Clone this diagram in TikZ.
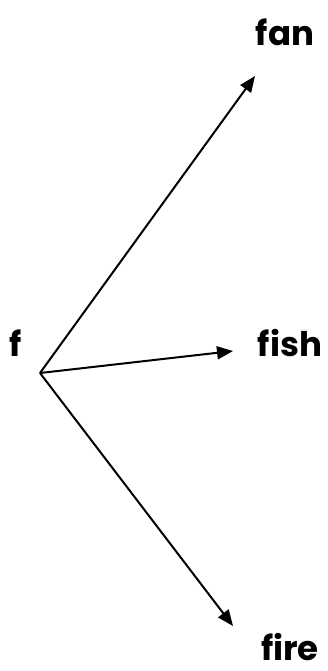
\documentclass[tikz,border=0pt]{standalone}
\usepackage{fontspec}
\setmainfont{Poppins}
\usetikzlibrary{arrows.meta}
\tikzset{
  word/.style={font=\fontsize{34}{38}\selectfont\bfseries, inner sep=0pt, anchor=base},
  arr/.style={line width=2pt, -{Triangle[length=16pt,width=13pt]}}
}
\begin{document}
\begin{tikzpicture}[x=1pt,y=-1pt]
\useasboundingbox (0,0) rectangle (328,671);
\coordinate (o) at (40,373);
\coordinate (t1) at (255,76);
\coordinate (t2) at (233,351);
\coordinate (t3) at (233,626);
\node[word] (f) at (16,356) {f};
\node[word] (fan) at (285,46) {fan};
\node[word] (fish) at (290,356) {fish};
\node[word] (fire) at (290,660) {fire};
\draw[arr] (o) -- (t1);
\draw[arr] (o) -- (t2);
\draw[arr] (o) -- (t3);
\end{tikzpicture}
\end{document}
